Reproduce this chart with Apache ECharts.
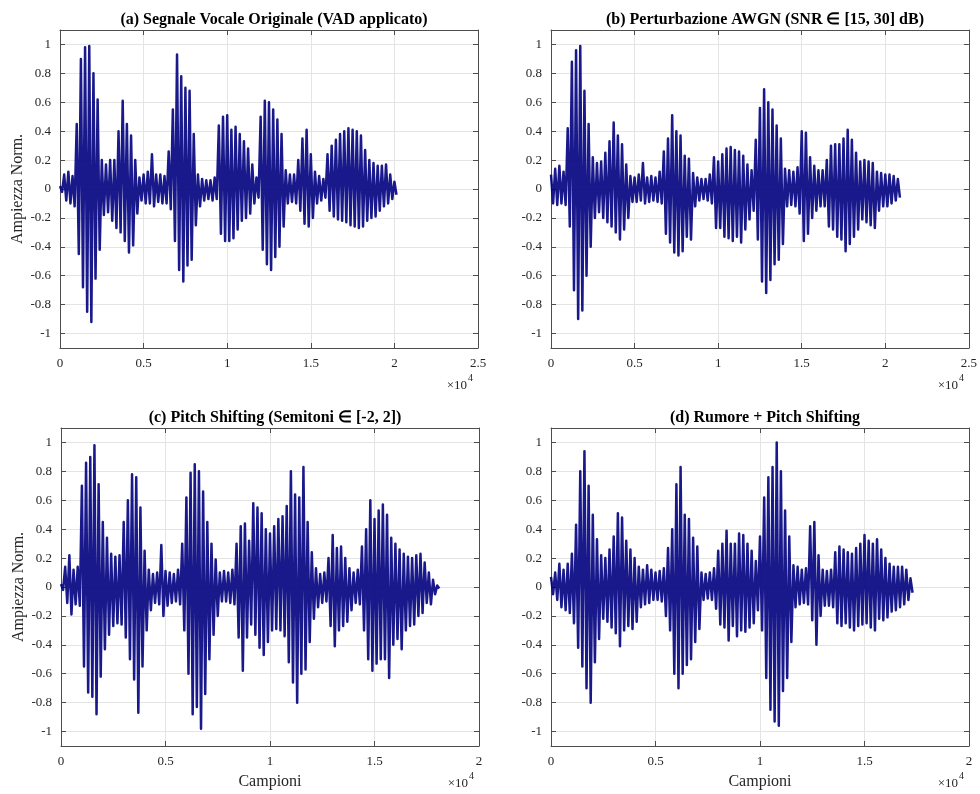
<!DOCTYPE html>
<html>
<head>
<meta charset="utf-8">
<script src="https://cdn.jsdelivr.net/npm/echarts@6/dist/echarts.min.js"></script>
<style>
  html, body { margin: 0; padding: 0; background: #fff; }
  #grafico { width: 980px; height: 794px; }
</style>
</head>
<body>
<div id="grafico"></div>
<script>
// Titoli dei quattro pannelli
const titoli = [
    '(a) Segnale Vocale Originale (VAD applicato)',
    '(b) Perturbazione AWGN (SNR \u2208 [15, 30] dB)',
    '(c) Pitch Shifting (Semitoni \u2208 [-2, 2])',
    '(d) Rumore + Pitch Shifting'
];

// Tick dell'asse y (ampiezza normalizzata)
const yTicks = [-1, -0.8, -0.6, -0.4, -0.2, 0, 0.2, 0.4, 0.6, 0.8, 1];
// Limite massimo asse x (campioni) per ogni pannello
const xMax = [25000, 25000, 20000, 20000];

// (a) picchi letti ogni 250 campioni: massimo e minimo
const stepA = 250;
const hiA = [0.02, 0.1, 0.12, 0.09, 0.45, 0.9, 0.98, 0.99, 0.8, 0.62,
    0.2, 0.17, 0.2, 0.2, 0.4, 0.61, 0.45, 0.37, 0.2, 0.08,
    0.1, 0.12, 0.24, 0.1, 0.1, 0.09, 0.26, 0.55, 0.93, 0.78,
    0.7, 0.68, 0.38, 0.1, 0.07, 0.06, 0.06, 0.08, 0.44, 0.5,
    0.51, 0.41, 0.43, 0.38, 0.33, 0.28, 0.17, 0.08, 0.5, 0.61,
    0.6, 0.55, 0.48, 0.38, 0.13, 0.1, 0.1, 0.2, 0.35, 0.41,
    0.24, 0.12, 0.09, 0.07, 0.24, 0.3, 0.34, 0.38, 0.4, 0.42,
    0.41, 0.4, 0.37, 0.27, 0.2, 0.18, 0.16, 0.16, 0.17, 0.1,
    0.05];
const loA = [-0.02, -0.08, -0.1, -0.12, -0.45, -0.68, -0.85, -0.92, -0.62, -0.42,
    -0.18, -0.16, -0.22, -0.27, -0.3, -0.36, -0.44, -0.39, -0.17, -0.08,
    -0.1, -0.1, -0.12, -0.09, -0.1, -0.1, -0.14, -0.36, -0.56, -0.64,
    -0.53, -0.49, -0.25, -0.12, -0.08, -0.07, -0.08, -0.07, -0.31, -0.36,
    -0.36, -0.34, -0.28, -0.22, -0.2, -0.17, -0.1, -0.06, -0.42, -0.52,
    -0.56, -0.47, -0.4, -0.26, -0.1, -0.09, -0.1, -0.15, -0.24, -0.26,
    -0.2, -0.1, -0.08, -0.06, -0.15, -0.19, -0.21, -0.22, -0.23, -0.25,
    -0.26, -0.27, -0.26, -0.22, -0.2, -0.19, -0.15, -0.12, -0.1, -0.07,
    -0.04];

// (b) segnale con rumore AWGN, passo 250 campioni
const stepB = 250;
const hiB = [0.1, 0.14, 0.16, 0.12, 0.42, 0.88, 0.96, 0.99, 0.68, 0.45,
    0.22, 0.18, 0.19, 0.25, 0.33, 0.46, 0.37, 0.31, 0.17, 0.09,
    0.08, 0.1, 0.18, 0.08, 0.09, 0.08, 0.12, 0.26, 0.35, 0.51,
    0.4, 0.37, 0.23, 0.21, 0.11, 0.08, 0.07, 0.07, 0.1, 0.22,
    0.19, 0.24, 0.28, 0.29, 0.27, 0.26, 0.23, 0.17, 0.13, 0.34,
    0.56, 0.69, 0.6, 0.55, 0.44, 0.35, 0.14, 0.13, 0.12, 0.15,
    0.4, 0.39, 0.22, 0.16, 0.13, 0.13, 0.2, 0.3, 0.31, 0.31,
    0.35, 0.41, 0.34, 0.25, 0.19, 0.2, 0.19, 0.18, 0.12, 0.11,
    0.1, 0.1, 0.09, 0.07];
const loB = [-0.1, -0.11, -0.1, -0.11, -0.26, -0.7, -0.9, -0.84, -0.6, -0.4,
    -0.2, -0.16, -0.2, -0.23, -0.26, -0.3, -0.35, -0.28, -0.2, -0.09,
    -0.09, -0.08, -0.1, -0.09, -0.08, -0.09, -0.1, -0.31, -0.37, -0.44,
    -0.46, -0.43, -0.33, -0.35, -0.12, -0.08, -0.07, -0.08, -0.1, -0.27,
    -0.27, -0.33, -0.34, -0.36, -0.33, -0.37, -0.28, -0.21, -0.15, -0.35,
    -0.64, -0.72, -0.63, -0.52, -0.49, -0.38, -0.12, -0.11, -0.12, -0.17,
    -0.36, -0.31, -0.2, -0.15, -0.12, -0.12, -0.26, -0.28, -0.33, -0.35,
    -0.43, -0.38, -0.33, -0.28, -0.21, -0.23, -0.25, -0.27, -0.15, -0.12,
    -0.12, -0.1, -0.08, -0.06];

// (c) pitch shifting, passo 200 campioni
const stepC = 200;
const hiC = [0.02, 0.14, 0.22, 0.12, 0.14, 0.7, 0.86, 0.9, 0.98, 0.71,
    0.45, 0.34, 0.23, 0.21, 0.22, 0.45, 0.6, 0.78, 0.76, 0.55,
    0.25, 0.12, 0.09, 0.1, 0.29, 0.11, 0.1, 0.09, 0.12, 0.3,
    0.62, 0.79, 0.85, 0.8, 0.66, 0.45, 0.3, 0.19, 0.1, 0.11,
    0.1, 0.12, 0.3, 0.42, 0.44, 0.32, 0.58, 0.55, 0.51, 0.4,
    0.37, 0.42, 0.47, 0.49, 0.56, 0.8, 0.64, 0.62, 0.83, 0.45,
    0.24, 0.13, 0.09, 0.1, 0.2, 0.36, 0.27, 0.28, 0.2, 0.13,
    0.1, 0.12, 0.28, 0.4, 0.6, 0.47, 0.53, 0.57, 0.5, 0.34,
    0.3, 0.26, 0.23, 0.21, 0.2, 0.22, 0.23, 0.17, 0.1, 0.05,
    0.01];
const loC = [-0.02, -0.11, -0.19, -0.12, -0.13, -0.55, -0.73, -0.76, -0.88, -0.62,
    -0.43, -0.33, -0.27, -0.25, -0.26, -0.35, -0.5, -0.64, -0.87, -0.55,
    -0.3, -0.16, -0.11, -0.12, -0.2, -0.13, -0.11, -0.1, -0.12, -0.3,
    -0.6, -0.88, -0.83, -0.98, -0.74, -0.5, -0.33, -0.2, -0.1, -0.1,
    -0.11, -0.12, -0.35, -0.58, -0.35, -0.26, -0.33, -0.42, -0.47, -0.38,
    -0.3, -0.29, -0.3, -0.34, -0.52, -0.66, -0.8, -0.6, -0.57, -0.38,
    -0.22, -0.14, -0.11, -0.1, -0.27, -0.41, -0.3, -0.27, -0.24, -0.16,
    -0.11, -0.12, -0.3, -0.5, -0.58, -0.53, -0.5, -0.5, -0.63, -0.4,
    -0.36, -0.43, -0.3, -0.27, -0.26, -0.2, -0.18, -0.11, -0.12, -0.05,
    -0.01];

// (d) rumore + pitch shifting, passo 200 campioni
const stepD = 200;
const hiD = [0.07, 0.1, 0.16, 0.12, 0.16, 0.23, 0.43, 0.8, 0.94, 0.7,
    0.5, 0.33, 0.22, 0.2, 0.26, 0.35, 0.51, 0.48, 0.32, 0.26,
    0.2, 0.14, 0.12, 0.15, 0.12, 0.1, 0.11, 0.13, 0.27, 0.4,
    0.71, 0.83, 0.5, 0.47, 0.34, 0.28, 0.1, 0.09, 0.1, 0.13,
    0.25, 0.3, 0.39, 0.3, 0.3, 0.37, 0.36, 0.3, 0.25, 0.18,
    0.35, 0.62, 0.76, 0.83, 1.0, 0.8, 0.53, 0.35, 0.15, 0.14,
    0.12, 0.13, 0.42, 0.45, 0.22, 0.12, 0.11, 0.12, 0.24, 0.28,
    0.26, 0.24, 0.23, 0.27, 0.3, 0.36, 0.32, 0.3, 0.33, 0.26,
    0.2, 0.16, 0.14, 0.14, 0.14, 0.12, 0.06];
const loD = [-0.05, -0.09, -0.14, -0.16, -0.18, -0.25, -0.42, -0.55, -0.7, -0.8,
    -0.52, -0.36, -0.22, -0.24, -0.28, -0.32, -0.41, -0.3, -0.27, -0.29,
    -0.24, -0.14, -0.12, -0.11, -0.09, -0.09, -0.1, -0.2, -0.3, -0.6,
    -0.7, -0.6, -0.54, -0.5, -0.38, -0.29, -0.09, -0.08, -0.09, -0.15,
    -0.26, -0.28, -0.37, -0.27, -0.34, -0.3, -0.31, -0.28, -0.25, -0.16,
    -0.3, -0.63, -0.85, -0.93, -0.96, -0.72, -0.63, -0.38, -0.14, -0.12,
    -0.11, -0.12, -0.23, -0.4, -0.2, -0.13, -0.13, -0.14, -0.25, -0.27,
    -0.25, -0.28, -0.3, -0.27, -0.26, -0.25, -0.28, -0.3, -0.22, -0.23,
    -0.21, -0.17, -0.16, -0.14, -0.12, -0.09, -0.04];

const pannelli = [
    {step: stepA, hi: hiA, lo: loA},
    {step: stepB, hi: hiB, lo: loB},
    {step: stepC, hi: hiC, lo: loC},
    {step: stepD, hi: hiD, lo: loD}
];

// alterna massimo e minimo per disegnare la forma d'onda
function formaOnda(step, hi, lo) {
    const punti = [];
    for (let i = 0; i < hi.length; i++) {
        punti.push([i * step, hi[i]]);
        punti.push([i * step + step / 2, lo[i]]);
    }
    return punti;
}

const font = "'Liberation Serif', 'Times New Roman', serif";
const coloreAssi = '#4d4d4d';
const coloreTesto = '#262626';
const coloreGriglia = '#e4e4e4';

const grids = [
    {left: 60, top: 30, width: 418, height: 318},
    {left: 551, top: 30, width: 418, height: 318},
    {left: 61, top: 428, width: 418, height: 318},
    {left: 551, top: 428, width: 418, height: 318}
];

const myChart = echarts.init(document.getElementById('grafico'));

const xAxes = [];
const yAxes = [];
const series = [];
const titles = [];
const graphics = [];

grids.forEach((g, i) => {
    // asse x inferiore con etichette
    xAxes.push({
        gridIndex: i, type: 'value', min: 0, max: xMax[i], interval: 5000,
        name: i >= 2 ? 'Campioni' : '',
        nameLocation: 'middle', nameGap: 28,
        nameTextStyle: {fontFamily: font, fontSize: 16, color: coloreTesto},
        axisLine: {onZero: false, lineStyle: {color: coloreAssi, width: 1}},
        axisTick: {inside: true, length: 5, lineStyle: {color: coloreAssi}},
        axisLabel: {
            fontFamily: font, fontSize: 13, color: coloreTesto, margin: 9,
            formatter: v => String(v / 10000)
        },
        splitLine: {show: true, lineStyle: {color: coloreGriglia, width: 1}}
    });
    // asse x superiore solo per il riquadro
    xAxes.push({
        gridIndex: i, type: 'value', min: 0, max: xMax[i], interval: 5000,
        position: 'top',
        axisLine: {onZero: false, lineStyle: {color: coloreAssi, width: 1}},
        axisTick: {inside: true, length: 5, lineStyle: {color: coloreAssi}},
        axisLabel: {show: false},
        splitLine: {show: false}
    });
    yAxes.push({
        gridIndex: i, type: 'value', min: -1.1, max: 1.1,
        name: (i % 2 === 0) ? 'Ampiezza Norm.' : '',
        nameLocation: 'middle', nameGap: 34, nameRotate: 90,
        nameTextStyle: {fontFamily: font, fontSize: 16, color: coloreTesto},
        axisLine: {onZero: false, lineStyle: {color: coloreAssi, width: 1}},
        axisTick: {inside: true, length: 5, customValues: yTicks, lineStyle: {color: coloreAssi}},
        axisLabel: {
            fontFamily: font, fontSize: 13, color: coloreTesto, margin: 9,
            customValues: yTicks,
            formatter: v => String(Math.round(v * 10) / 10)
        },
        splitLine: {show: true, lineStyle: {color: coloreGriglia, width: 1}}
    });
    yAxes.push({
        gridIndex: i, type: 'value', min: -1.1, max: 1.1, position: 'right',
        axisLine: {onZero: false, lineStyle: {color: coloreAssi, width: 1}},
        axisTick: {inside: true, length: 5, customValues: yTicks, lineStyle: {color: coloreAssi}},
        axisLabel: {show: false},
        splitLine: {show: false}
    });

    const p = pannelli[i];
    series.push({
        type: 'line',
        xAxisIndex: i * 2,
        yAxisIndex: i * 2,
        data: formaOnda(p.step, p.hi, p.lo),
        symbol: 'none',
        sampling: false,
        clip: true,
        lineStyle: {color: '#000080', width: 2.5, opacity: 0.9, join: 'round'},
        z: 3
    });

    titles.push({
        text: titoli[i],
        left: g.left + g.width / 2,
        top: g.top - 23,
        textAlign: 'center',
        textStyle: {fontFamily: font, fontSize: 16, fontWeight: 'bold', color: '#000'}
    });

    // moltiplicatore ×10^4 sotto l'asse x
    const destra = g.left + g.width;
    const base = g.top + g.height + 38;
    graphics.push({
        type: 'text', x: destra - 11, y: base,
        style: {text: '\u00d710', font: '13px ' + font, fill: coloreTesto,
            textAlign: 'right', textVerticalAlign: 'middle'}
    });
    graphics.push({
        type: 'text', x: destra - 10, y: base - 8,
        style: {text: '4', font: '10px ' + font, fill: coloreTesto,
            textAlign: 'left', textVerticalAlign: 'middle'}
    });
});

const option = {
    animation: false,
    backgroundColor: '#fff',
    title: titles,
    grid: grids,
    xAxis: xAxes,
    yAxis: yAxes,
    series: series,
    graphic: graphics
};

myChart.setOption(option);
</script>
</body>
</html>
